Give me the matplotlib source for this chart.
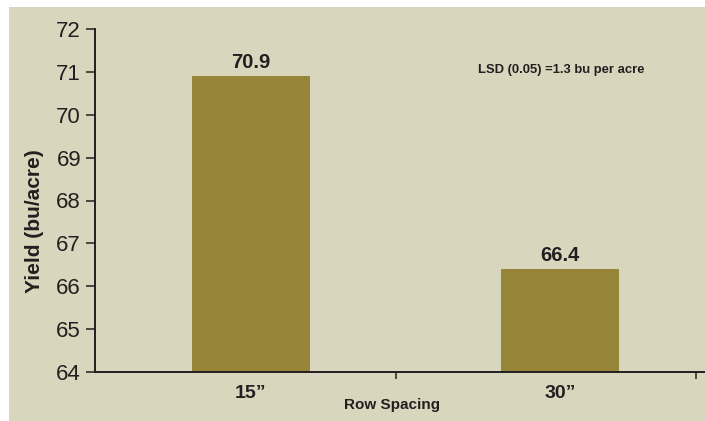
import matplotlib
matplotlib.use("Agg")
import matplotlib.pyplot as plt
from matplotlib.patches import Rectangle

categories = ["15\u201d", "30\u201d"]
yields = [70.9, 66.4]
value_labels = ["70.9", "66.4"]
y_ticks = [64, 65, 66, 67, 68, 69, 70, 71, 72]
x_label = "Row Spacing"
y_label = "Yield (bu/acre)"
note = "LSD (0.05) =1.3 bu per acre"

BG = "#d8d6bd"
BAR = "#97853a"
INK = "#231f20"

plt.rcParams['font.family'] = ['Liberation Sans', 'DejaVu Sans']

W, H = 705, 421
fig = plt.figure(figsize=(W / 100, H / 100), dpi=100, facecolor="white")
fig.patches.append(Rectangle((9 / W, 0), 1 - 9 / W, 1 - 7 / H, transform=fig.transFigure,
                             facecolor=BG, edgecolor="none", zorder=-10))

ax = fig.add_axes([95 / W, 1 - 372 / H, 1 - 95 / W, (372 - 29) / H])
ax.set_facecolor("none")

xpos = list(range(len(categories)))
bars = ax.bar(xpos, yields, width=0.382, color=BAR, zorder=2)
ax.bar_label(bars, labels=value_labels, padding=3, fontsize=14.5,
             fontweight="bold", color=INK)

ax.set_ylim(64, 72)
ax.set_xlim(-0.505, 1.469)
ax.set_yticks(y_ticks)
ax.set_yticklabels([str(t) for t in y_ticks], fontsize=16, color=INK)
ax.tick_params(axis="y", direction="out", length=6.5, width=1.1, color=INK, pad=3.5)

ax.set_xticks(xpos)
ax.set_xticklabels(categories, fontsize=14, fontweight="bold", color=INK)
ax.tick_params(axis="x", which="major", length=0, pad=9)
ax.set_xticks([0.47, 1.44], minor=True)
ax.tick_params(axis="x", which="minor", direction="out", length=5, width=1.1, color=INK)

for s in ["top", "right"]:
    ax.spines[s].set_visible(False)
for s in ["left", "bottom"]:
    ax.spines[s].set_color(INK)
    ax.spines[s].set_linewidth(1.4)

fig.text(392 / W, 1 - 405 / H, x_label, ha="center", va="center",
         fontsize=11, fontweight="bold", color=INK)
fig.text(35 / W, 1 - 221.5 / H, y_label, ha="center", va="center", rotation=90,
         fontsize=15, fontweight="bold", color=INK)
fig.text(478 / W, 1 - 70 / H, note, ha="left", va="center",
         fontsize=9.4, fontweight="bold", color=INK)

fig.savefig("out.png", dpi=100, facecolor=fig.get_facecolor())
